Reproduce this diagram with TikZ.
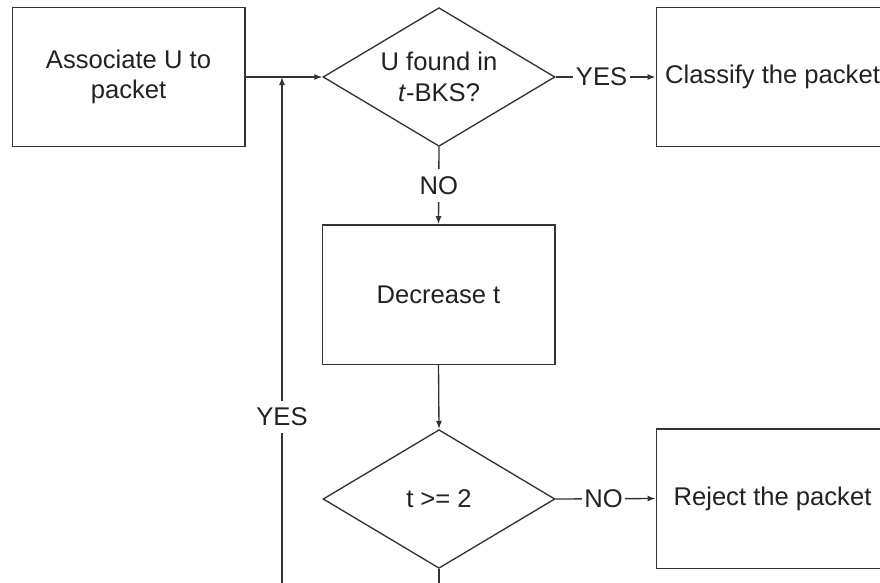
\documentclass[tikz,border=0pt]{standalone}
\usepackage{fontspec}
\setmainfont{Liberation Sans}
\usetikzlibrary{shapes.geometric,arrows.meta}
\definecolor{ink}{HTML}{222222}
\definecolor{wire}{HTML}{333333}
\tikzset{
  every node/.style={text=ink,font=\fontsize{19.2}{23}\selectfont},
  procbox/.style={draw=wire,line width=1pt,minimum width=174.5pt,minimum height=104.5pt,align=center,inner sep=0pt},
  decision/.style={draw=wire,line width=1pt,diamond,aspect=1.67,minimum width=174pt,minimum height=104pt,align=center,inner sep=0pt},
  flow/.style={draw=wire,line width=1pt,-{Latex[length=6pt,width=4.5pt]}},
  tag/.style={fill=white,inner xsep=2pt,inner ysep=5.5pt}
}
\begin{document}
\begin{tikzpicture}[x=0.75pt,y=-0.75pt]
  \clip (0,0) rectangle (880,582);
  \fill[white] (0,0) rectangle (880,582);

  % process boxes
  \node[procbox] (assoc) at (128.5,77) {Associate U to\\packet};
  \node[procbox] (classify) at (772.5,77) {Classify the packet};
  \node[procbox] (decr) at (438.5,294.5) {Decrease t};
  \node[procbox] (reject) at (772.5,498.5) {Reject the packet};

  % decisions
  \node[decision] (found) at (439,77) {U found in\\\textit{t}-BKS?};
  \node[decision] (thresh) at (439,499) {t >= 2};

  % merge point of the loop back
  \coordinate (merge) at (282,77);
  \coordinate (loopbottom) at (439,620);

  % connectors
  \draw[flow] (assoc.east) -- (found.west);
  \draw[flow] (found.east) -- node[tag,pos=0.46] {YES} (classify.west);
  \draw[flow] (found.south) -- node[tag,pos=0.5] {NO} (decr.north);
  \draw[flow] (decr.south) -- (thresh.north);
  \draw[flow] (thresh.east) -- node[tag,pos=0.48] {NO} (reject.west);
  \draw[flow] (thresh.south) -- (loopbottom) -| node[tag,pos=0.687] {YES} (merge);
\end{tikzpicture}
\end{document}
